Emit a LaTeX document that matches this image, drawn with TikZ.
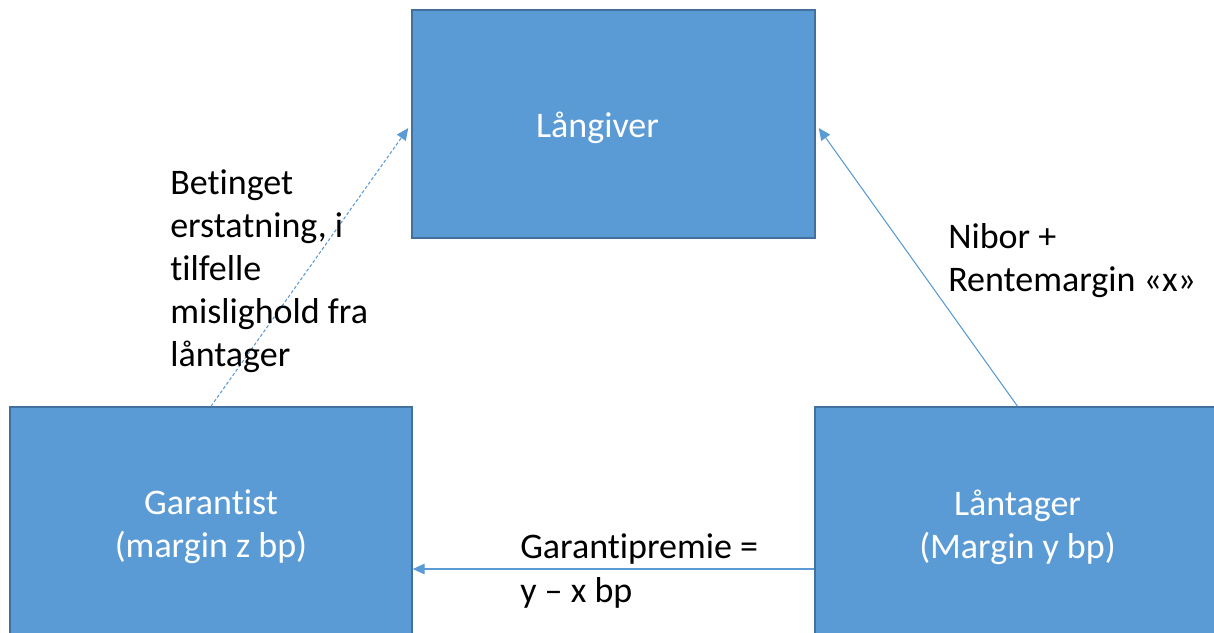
\documentclass[tikz,border=0pt]{standalone}
\usepackage{fontspec}
\setmainfont[Ligatures={NoCommon}]{Carlito}
\usetikzlibrary{arrows.meta}
\definecolor{boxfill}{HTML}{5B9BD5}
\definecolor{boxdraw}{HTML}{41719C}
\definecolor{linkc}{HTML}{5B9BD5}
\tikzset{
  px/.style={x=0.75pt,y=-0.75pt},
  bigfont/.style={font=\fontsize{27}{32.3}\selectfont},
  bluebox/.style={draw=boxdraw,fill=boxfill,line width=1.1pt,text=white,align=center,inner sep=0pt,bigfont},
  lbl/.style={text=black,align=left,inner sep=0pt,anchor=west,bigfont},
  link/.style={draw=linkc,line width=0.8pt,-{Triangle[length=9pt,width=8pt]}},
  dashlink/.style={link,dash pattern=on 2.4pt off 1.6pt}
}
\begin{document}
\begin{tikzpicture}[px]
\useasboundingbox (0,0) rectangle (1214,632);
\clip (0,0) rectangle (1214,632);
\node[bluebox,minimum width=403*0.75pt,minimum height=228*0.75pt,
  label={[text=white,bigfont,inner sep=0pt,shift={(-12pt,-3pt)}]center:Långiver}] (top) at (613.5,124) {};
\node[bluebox,minimum width=402*0.75pt,minimum height=240*0.75pt] (gar) at (211,527) {Garantist\\(margin z bp)};
\node[bluebox,minimum width=405*0.75pt,minimum height=240*0.75pt] (lan) at (1017.5,527) {Låntager\\(Margin y bp)};
\draw[dashlink] (gar.north) -- ([shift={(-3,4)}]top.west);
\draw[link] (lan.north) -- ([shift={(3,4)}]top.east);
\draw[link] (lan.west |- 0,569) -- (gar.east |- 0,569);
\node[lbl] (l1) at (170,271) {Betinget\\erstatning, i\\tilfelle\\mislighold fra\\låntager};
\node[lbl] (l2) at (948,261) {Nibor +\\Rentemargin «x»};
\node[lbl] (l3) at (520,571) {Garantipremie =\\y – x bp};
\end{tikzpicture}
\end{document}
